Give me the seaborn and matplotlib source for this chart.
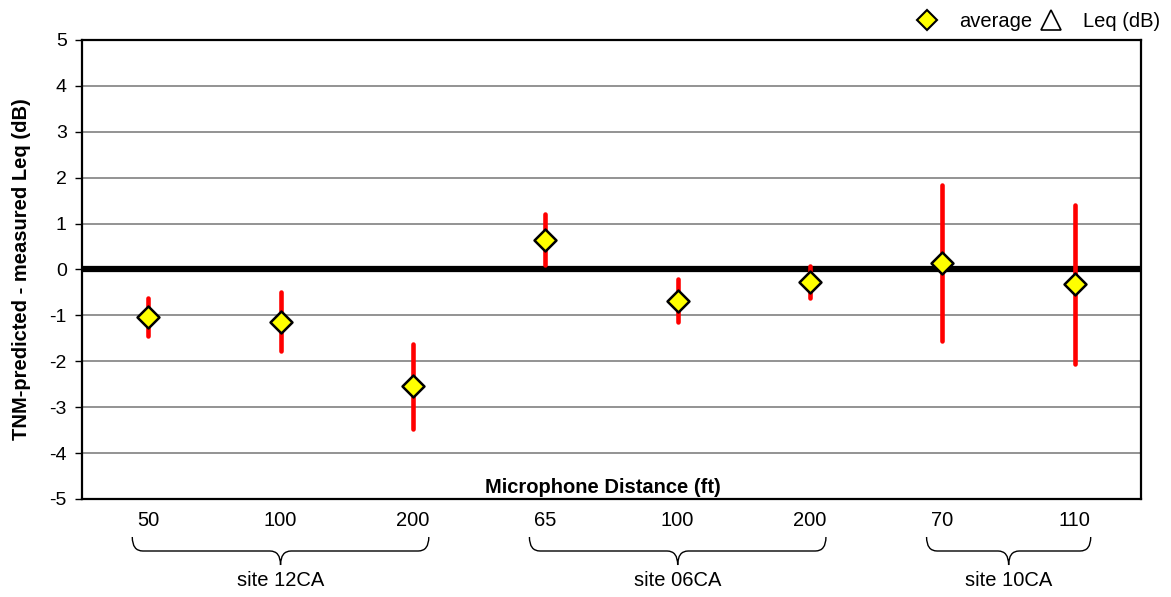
import numpy as np
import matplotlib
matplotlib.use("Agg")
import matplotlib.pyplot as plt
import matplotlib.transforms as mtransforms
from matplotlib.lines import Line2D
from matplotlib.path import Path
from matplotlib.patches import PathPatch
import seaborn as sns

# data
distances = ["50", "100", "200", "65", "100", "200", "70", "110"]
average = [-1.03, -1.14, -2.54, 0.65, -0.68, -0.28, 0.15, -0.32]
err_low = [-1.45, -1.77, -3.47, 0.10, -1.15, -0.62, -1.55, -2.06]
err_high = [-0.62, -0.50, -1.62, 1.21, -0.20, 0.07, 1.84, 1.41]
sites = ["site 12CA", "site 06CA", "site 10CA"]
site_members = [[0, 1, 2], [3, 4, 5], [6, 7]]

sns.set_style("white")
plt.rcParams["font.family"] = ["Liberation Sans", "DejaVu Sans"]
plt.rcParams["text.color"] = "black"
plt.rcParams["axes.labelcolor"] = "black"
plt.rcParams["xtick.color"] = "black"
plt.rcParams["ytick.color"] = "black"

fig = plt.figure(figsize=(11.71, 5.97), dpi=100)
ax = fig.add_axes([0.0700, 0.1642, 0.9044, 0.7688])

pos = np.arange(len(distances))

# grid lines and zero line
for yv in range(-4, 5):
    ax.axhline(yv, color="#808080", lw=1.2, zorder=1)
ax.axhline(0, color="black", lw=4.5, zorder=2)

# error bars
ax.vlines(pos, err_low, err_high, color="#ff0000", lw=3.3, zorder=3,
          capstyle="round")

sns.scatterplot(x=pos, y=average, marker="D", color="#ffff00", edgecolor="black",
                linewidth=1.8, s=125, zorder=4, ax=ax, legend=False)

ax.set_xlim(-0.5, len(distances) - 0.5)
ax.set_ylim(-5, 5)
ax.set_yticks(range(-5, 6))
ax.set_yticklabels([str(v) for v in range(-5, 6)], fontsize=14)
ax.set_xticks(pos)
ax.set_xticklabels(distances, fontsize=14.5)
ax.tick_params(axis="y", length=5, width=1, left=True, pad=6)
ax.tick_params(axis="x", length=0, pad=9)
for sp in ax.spines.values():
    sp.set_color("black")
    sp.set_linewidth(1.6)

ax.set_ylabel("TNM-predicted - measured Leq (dB)", fontsize=14.5, fontweight="bold")
ax.yaxis.set_label_coords(-0.048, 0.5)
ax.text(0.492, 0.005, "Microphone Distance (ft)", transform=ax.transAxes,
        ha="center", va="bottom", fontsize=14.5, fontweight="bold")

# curly braces under the tick labels
trans = mtransforms.blended_transform_factory(ax.transData, fig.transFigure)
y_top, y_mid, y_tip = 1 - 537 / 597, 1 - 551 / 597, 1 - 565 / 597
for name, members in zip(sites, site_members):
    x0 = members[0] - 0.12
    x1 = members[-1] + 0.12
    xm = (x0 + x1) / 2
    r = 0.08
    verts = [(x0, y_top), (x0, y_mid), (x0 + r, y_mid),
             (xm - r, y_mid), (xm, y_mid), (xm, y_tip),
             (xm, y_mid), (xm + r, y_mid),
             (x1 - r, y_mid), (x1, y_mid), (x1, y_top)]
    codes = [Path.MOVETO, Path.CURVE3, Path.CURVE3,
             Path.LINETO, Path.CURVE3, Path.CURVE3,
             Path.CURVE3, Path.CURVE3,
             Path.LINETO, Path.CURVE3, Path.CURVE3]
    patch = PathPatch(Path(verts, codes), transform=trans, fill=False,
                      edgecolor="black", lw=1.0, clip_on=False)
    fig.add_artist(patch)
    fig.text(xm, 1 - 581 / 597, name, transform=trans, fontsize=14.5,
             ha="center", va="center")

# legend
handles = [
    Line2D([], [], marker="D", color="none", markerfacecolor="#ffff00",
           markeredgecolor="black", markeredgewidth=1.5, markersize=10),
    Line2D([], [], marker="^", color="none", markerfacecolor="white",
           markeredgecolor="black", markeredgewidth=1.2, markersize=15),
]
fig.legend(handles, ["average", "Leq (dB)"], loc="upper right",
           bbox_to_anchor=(1.006, 1.01), ncol=2, frameon=False, fontsize=14.5,
           handletextpad=1.1, columnspacing=0.4, handlelength=1.0)

fig.savefig("out.png", dpi=100)
